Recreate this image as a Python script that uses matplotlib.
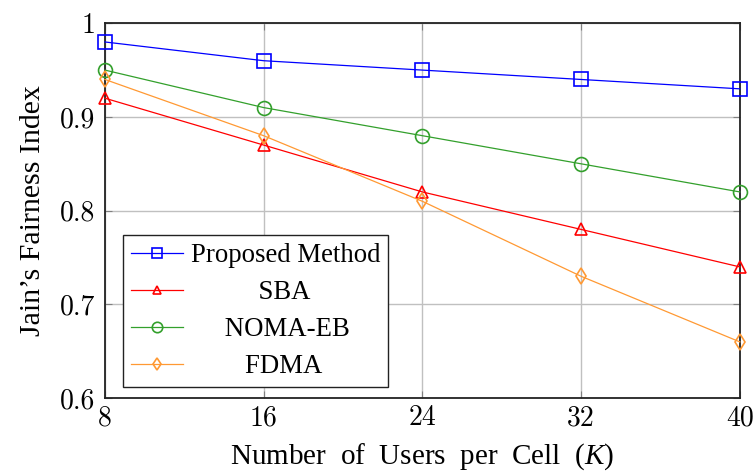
import matplotlib

matplotlib.use("Agg")

import matplotlib.pyplot as plt
from matplotlib.font_manager import FontProperties

# data
users = [8, 16, 24, 32, 40]
proposed = [0.98, 0.96, 0.95, 0.94, 0.93]
sba = [0.92, 0.87, 0.82, 0.78, 0.74]
noma_eb = [0.95, 0.91, 0.88, 0.85, 0.82]
fdma = [0.94, 0.88, 0.81, 0.73, 0.66]

series_names = ["Proposed Method", "SBA", "NOMA-EB", "FDMA"]
y_ticks = [0.6, 0.7, 0.8, 0.9, 1.0]
y_tick_labels = ["0.6", "0.7", "0.8", "0.9", "1"]

plt.rcParams["mathtext.fontset"] = "custom"
plt.rcParams["mathtext.rm"] = "Liberation Serif"
plt.rcParams["mathtext.it"] = "Liberation Serif:italic"

LABEL_FONT = "Liberation Serif"
TICK_FONT = "cmr10"
LEGEND_FS = 19.3
AXIS_FS = 21


def centered_labels(fig, labels, size):
    # pad with leading spaces so the legend entries look centred
    renderer = fig.canvas.get_renderer()
    prop = FontProperties(family=LABEL_FONT, size=size)

    def width(s):
        return renderer.get_text_width_height_descent(s, prop, ismath=False)[0]

    space = (width("x" + " " * 10 + "x") - width("xx")) / 10.0
    widths = [width(s) for s in labels]
    widest = max(widths)
    return [" " * int(round((widest - w) / 2.0 / space)) + s for s, w in zip(labels, widths)]


def main() -> None:
    fig = plt.figure(figsize=(7.55, 4.74), dpi=100)
    ax = fig.add_axes([0.139, 0.160, 0.841, 0.791])

    styles = [
        ("#0000ff", "s", 10),
        ("#ff0000", "^", 8),
        ("#33a02c", "o", 10),
        ("#ff9933", "d", 8),
    ]
    values = [proposed, sba, noma_eb, fdma]
    for vals, (color, marker, ms) in zip(values, styles):
        ax.plot(users, vals, color=color, marker=marker, markersize=ms,
                markerfacecolor="none", markeredgewidth=1.2, linewidth=0.9,
                clip_on=False, zorder=3)

    ax.set_xlim(8, 40)
    ax.set_ylim(0.6, 1.0)
    ax.set_xticks(users, labels=[str(u) for u in users])
    ax.set_yticks(y_ticks, labels=y_tick_labels)
    ax.grid(True, color="#c0c0c0", linewidth=1.0)
    ax.set_axisbelow(True)
    ax.tick_params(direction="in", length=5, width=0.8, color="#808080",
                   top=True, right=True, labelsize=20, labelfontfamily=TICK_FONT)
    ax.tick_params(axis="x", pad=5)
    ax.tick_params(axis="y", pad=7)
    for spine in ax.spines.values():
        spine.set_linewidth(1.3)
        spine.set_color("#222222")

    ax.set_xlabel("Number  of  Users  per  Cell  ($K$)", fontsize=AXIS_FS,
                  family=LABEL_FONT, labelpad=7)
    ax.set_ylabel("Jain\u2019s Fairness Index", fontsize=AXIS_FS + 0.5,
                  family=LABEL_FONT, labelpad=10)

    leg = ax.legend(
        ax.get_lines(),
        centered_labels(fig, series_names, LEGEND_FS),
        loc="lower left",
        bbox_to_anchor=(0.028, 0.029),
        borderaxespad=0,
        prop=FontProperties(family=LABEL_FONT, size=LEGEND_FS),
        handlelength=1.93,
        handletextpad=0.3,
        borderpad=0.3,
        labelspacing=0.45,
        markerscale=0.75,
        fancybox=False,
        framealpha=1.0,
        edgecolor="#222222",
    )
    leg.get_frame().set_linewidth(1.0)

    fig.savefig("out.png", dpi=100)
    plt.close(fig)


if __name__ == "__main__":
    main()
